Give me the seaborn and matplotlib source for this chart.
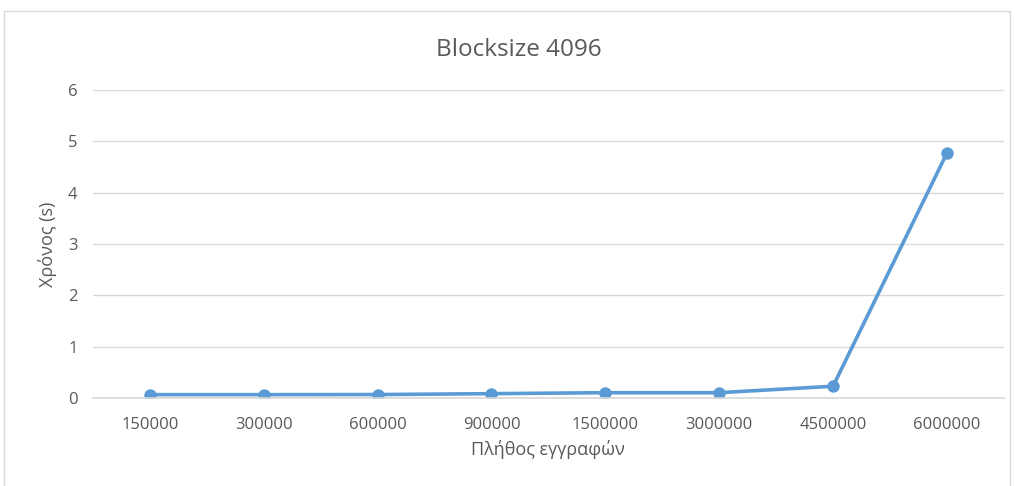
import matplotlib
matplotlib.use("Agg")
import matplotlib.pyplot as plt
import seaborn as sns
import pandas as pd
from matplotlib.patches import Rectangle

categories = ["150000", "300000", "600000", "900000", "1500000", "3000000", "4500000", "6000000"]
times = [0.066, 0.066, 0.068, 0.085, 0.104, 0.104, 0.23, 4.77]
yticks = [0, 1, 2, 3, 4, 5, 6]

sns.set_theme(style="white")
plt.rcParams['font.family'] = ['Open Sans', 'DejaVu Sans']

df = pd.DataFrame({"n": categories, "t": times})

fig = plt.figure(figsize=(10.15, 4.86), dpi=100)
ax = fig.add_axes([0.0916, 0.181, 0.8974, 0.634])

line_color = "#5B9BD5"
text_color = "#595959"

sns.pointplot(data=df, x="n", y="t", order=categories, ax=ax, color=line_color,
              markers="o", linestyles="-", markersize=7, linewidth=2.6)

ax.set_ylim(0, 6)
ax.set_yticks(yticks)
ax.set_yticklabels([str(v) for v in yticks])
ax.set_xlim(-0.5, len(categories) - 0.5)
ax.grid(axis="y", color="#D9D9D9", linewidth=1)
ax.set_axisbelow(True)
for s in ["top", "right", "left"]:
    ax.spines[s].set_visible(False)
ax.spines["bottom"].set_color("#D9D9D9")
ax.tick_params(axis="both", length=0, labelsize=12, labelcolor=text_color)
ax.tick_params(axis="y", pad=11)
ax.tick_params(axis="x", pad=14)

fig.text(519 / 1015, 1 - 50 / 486, "Blocksize 4096", fontsize=17.5, color=text_color,
         ha="center", va="center")
ax.set_xlabel("Πλήθος εγγραφών", fontsize=13, color=text_color, labelpad=5)
ax.set_ylabel("Χρόνος (s)", fontsize=13, color=text_color, labelpad=8)

fig.patches.append(Rectangle((4 / 1015, -0.05), 1006 / 1015, 1 - 11 / 486 + 0.05,
                             transform=fig.transFigure, fill=False,
                             edgecolor="#D9D9D9", linewidth=1, clip_on=False))

fig.savefig("out.png", dpi=100, facecolor="white")
